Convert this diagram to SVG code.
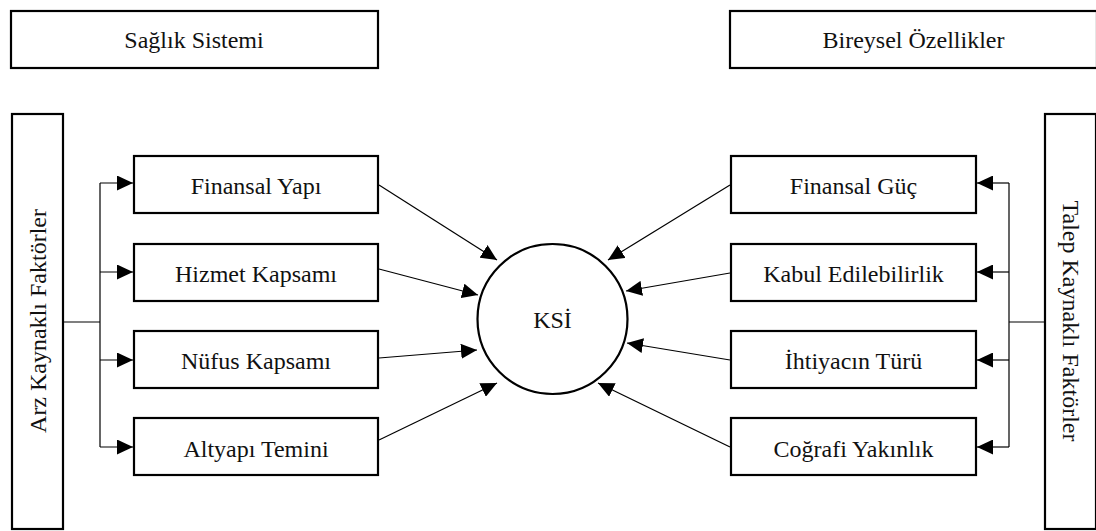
<svg xmlns="http://www.w3.org/2000/svg" width="1096" height="531" viewBox="0 0 1096 531">
  <style>
    .box { fill: #ffffff; stroke: #000000; stroke-width: 2.2; }
    .hub { fill: #ffffff; stroke: #000000; stroke-width: 2.2; }
    .lbl { font-family: 'Liberation Serif', 'Times New Roman', serif; font-size: 24px; fill: #111111; text-anchor: middle; }
    .wire { fill: none; stroke: #000000; stroke-width: 1.2; }
    .arrow { fill: none; stroke: #000000; stroke-width: 1.2; marker-end: url(#head); }
  </style>
  <defs>
    <marker id="head" markerUnits="userSpaceOnUse" markerWidth="16" markerHeight="15" refX="16" refY="7.5" orient="auto">
      <path d="M0,0 L16,7.5 L0,15 Z" fill="#000000"/>
    </marker>
  </defs>

  <rect width="1096" height="531" fill="#ffffff"/>

  <!-- header boxes -->
  <g id="saglik-sistemi">
    <rect class="box" x="11" y="11" width="367" height="57"/>
    <text class="lbl" x="194" y="48">Sağlık Sistemi</text>
  </g>
  <g id="bireysel-ozellikler">
    <rect class="box" x="730" y="11" width="367" height="57"/>
    <text class="lbl" x="913.5" y="48">Bireysel Özellikler</text>
  </g>

  <!-- side bars -->
  <g id="arz-kaynakli">
    <rect class="box" x="12" y="114" width="51" height="415"/>
    <text class="lbl" transform="translate(46,321) rotate(-90)" x="0" y="0">Arz Kaynaklı Faktörler</text>
  </g>
  <g id="talep-kaynakli">
    <rect class="box" x="1045" y="114" width="51" height="415"/>
    <text class="lbl" transform="translate(1063,321) rotate(90)" x="0" y="0">Talep Kaynaklı Faktörler</text>
  </g>

  <!-- supply-side factors -->
  <g id="finansal-yapi">
    <rect class="box" x="134" y="156" width="244" height="57"/>
    <text class="lbl" x="256" y="194">Finansal Yapı</text>
  </g>
  <g id="hizmet-kapsami">
    <rect class="box" x="134" y="244" width="244" height="57"/>
    <text class="lbl" x="256" y="282">Hizmet Kapsamı</text>
  </g>
  <g id="nufus-kapsami">
    <rect class="box" x="134" y="331" width="244" height="57"/>
    <text class="lbl" x="256" y="368.5">Nüfus Kapsamı</text>
  </g>
  <g id="altyapi-temini">
    <rect class="box" x="134" y="418" width="244" height="57"/>
    <text class="lbl" x="256" y="456.5">Altyapı Temini</text>
  </g>

  <!-- demand-side factors -->
  <g id="finansal-guc">
    <rect class="box" x="731" y="156" width="245" height="57"/>
    <text class="lbl" x="853.5" y="194">Finansal Güç</text>
  </g>
  <g id="kabul-edilebilirlik">
    <rect class="box" x="731" y="244" width="245" height="57"/>
    <text class="lbl" x="853.5" y="282">Kabul Edilebilirlik</text>
  </g>
  <g id="ihtiyacin-turu">
    <rect class="box" x="731" y="331" width="245" height="57"/>
    <text class="lbl" x="853.5" y="368.5">İhtiyacın Türü</text>
  </g>
  <g id="cografi-yakinlik">
    <rect class="box" x="731" y="418" width="245" height="57"/>
    <text class="lbl" x="853.5" y="456.5">Coğrafi Yakınlık</text>
  </g>

  <!-- central node -->
  <g id="ksi">
    <circle class="hub" cx="552.5" cy="319" r="75"/>
    <text class="lbl" x="552.5" y="328">KSİ</text>
  </g>

  <!-- connectors -->
  <g id="connectors">
    <!-- left distribution bus -->
    <path class="wire" d="M64,322 H100 M100,183 V447"/>
    <path class="arrow" d="M100,183 H133"/>
    <path class="arrow" d="M100,272 H133"/>
    <path class="arrow" d="M100,360 H133"/>
    <path class="arrow" d="M100,447 H133"/>

    <!-- right distribution bus -->
    <path class="wire" d="M1044,322 H1009 M1009,183 V447"/>
    <path class="arrow" d="M1009,183 H977"/>
    <path class="arrow" d="M1009,272 H977"/>
    <path class="arrow" d="M1009,360 H977"/>
    <path class="arrow" d="M1009,447 H977"/>

    <!-- factors into KSİ -->
    <path class="arrow" d="M379,185 L497,260"/>
    <path class="arrow" d="M379,269 L478,295"/>
    <path class="arrow" d="M379,358 L477,350"/>
    <path class="arrow" d="M379,440 L497,383"/>

    <path class="arrow" d="M730,185 L608,260"/>
    <path class="arrow" d="M730,273 L626,291"/>
    <path class="arrow" d="M730,360 L627,343"/>
    <path class="arrow" d="M730,447 L598,383"/>
  </g>
</svg>
